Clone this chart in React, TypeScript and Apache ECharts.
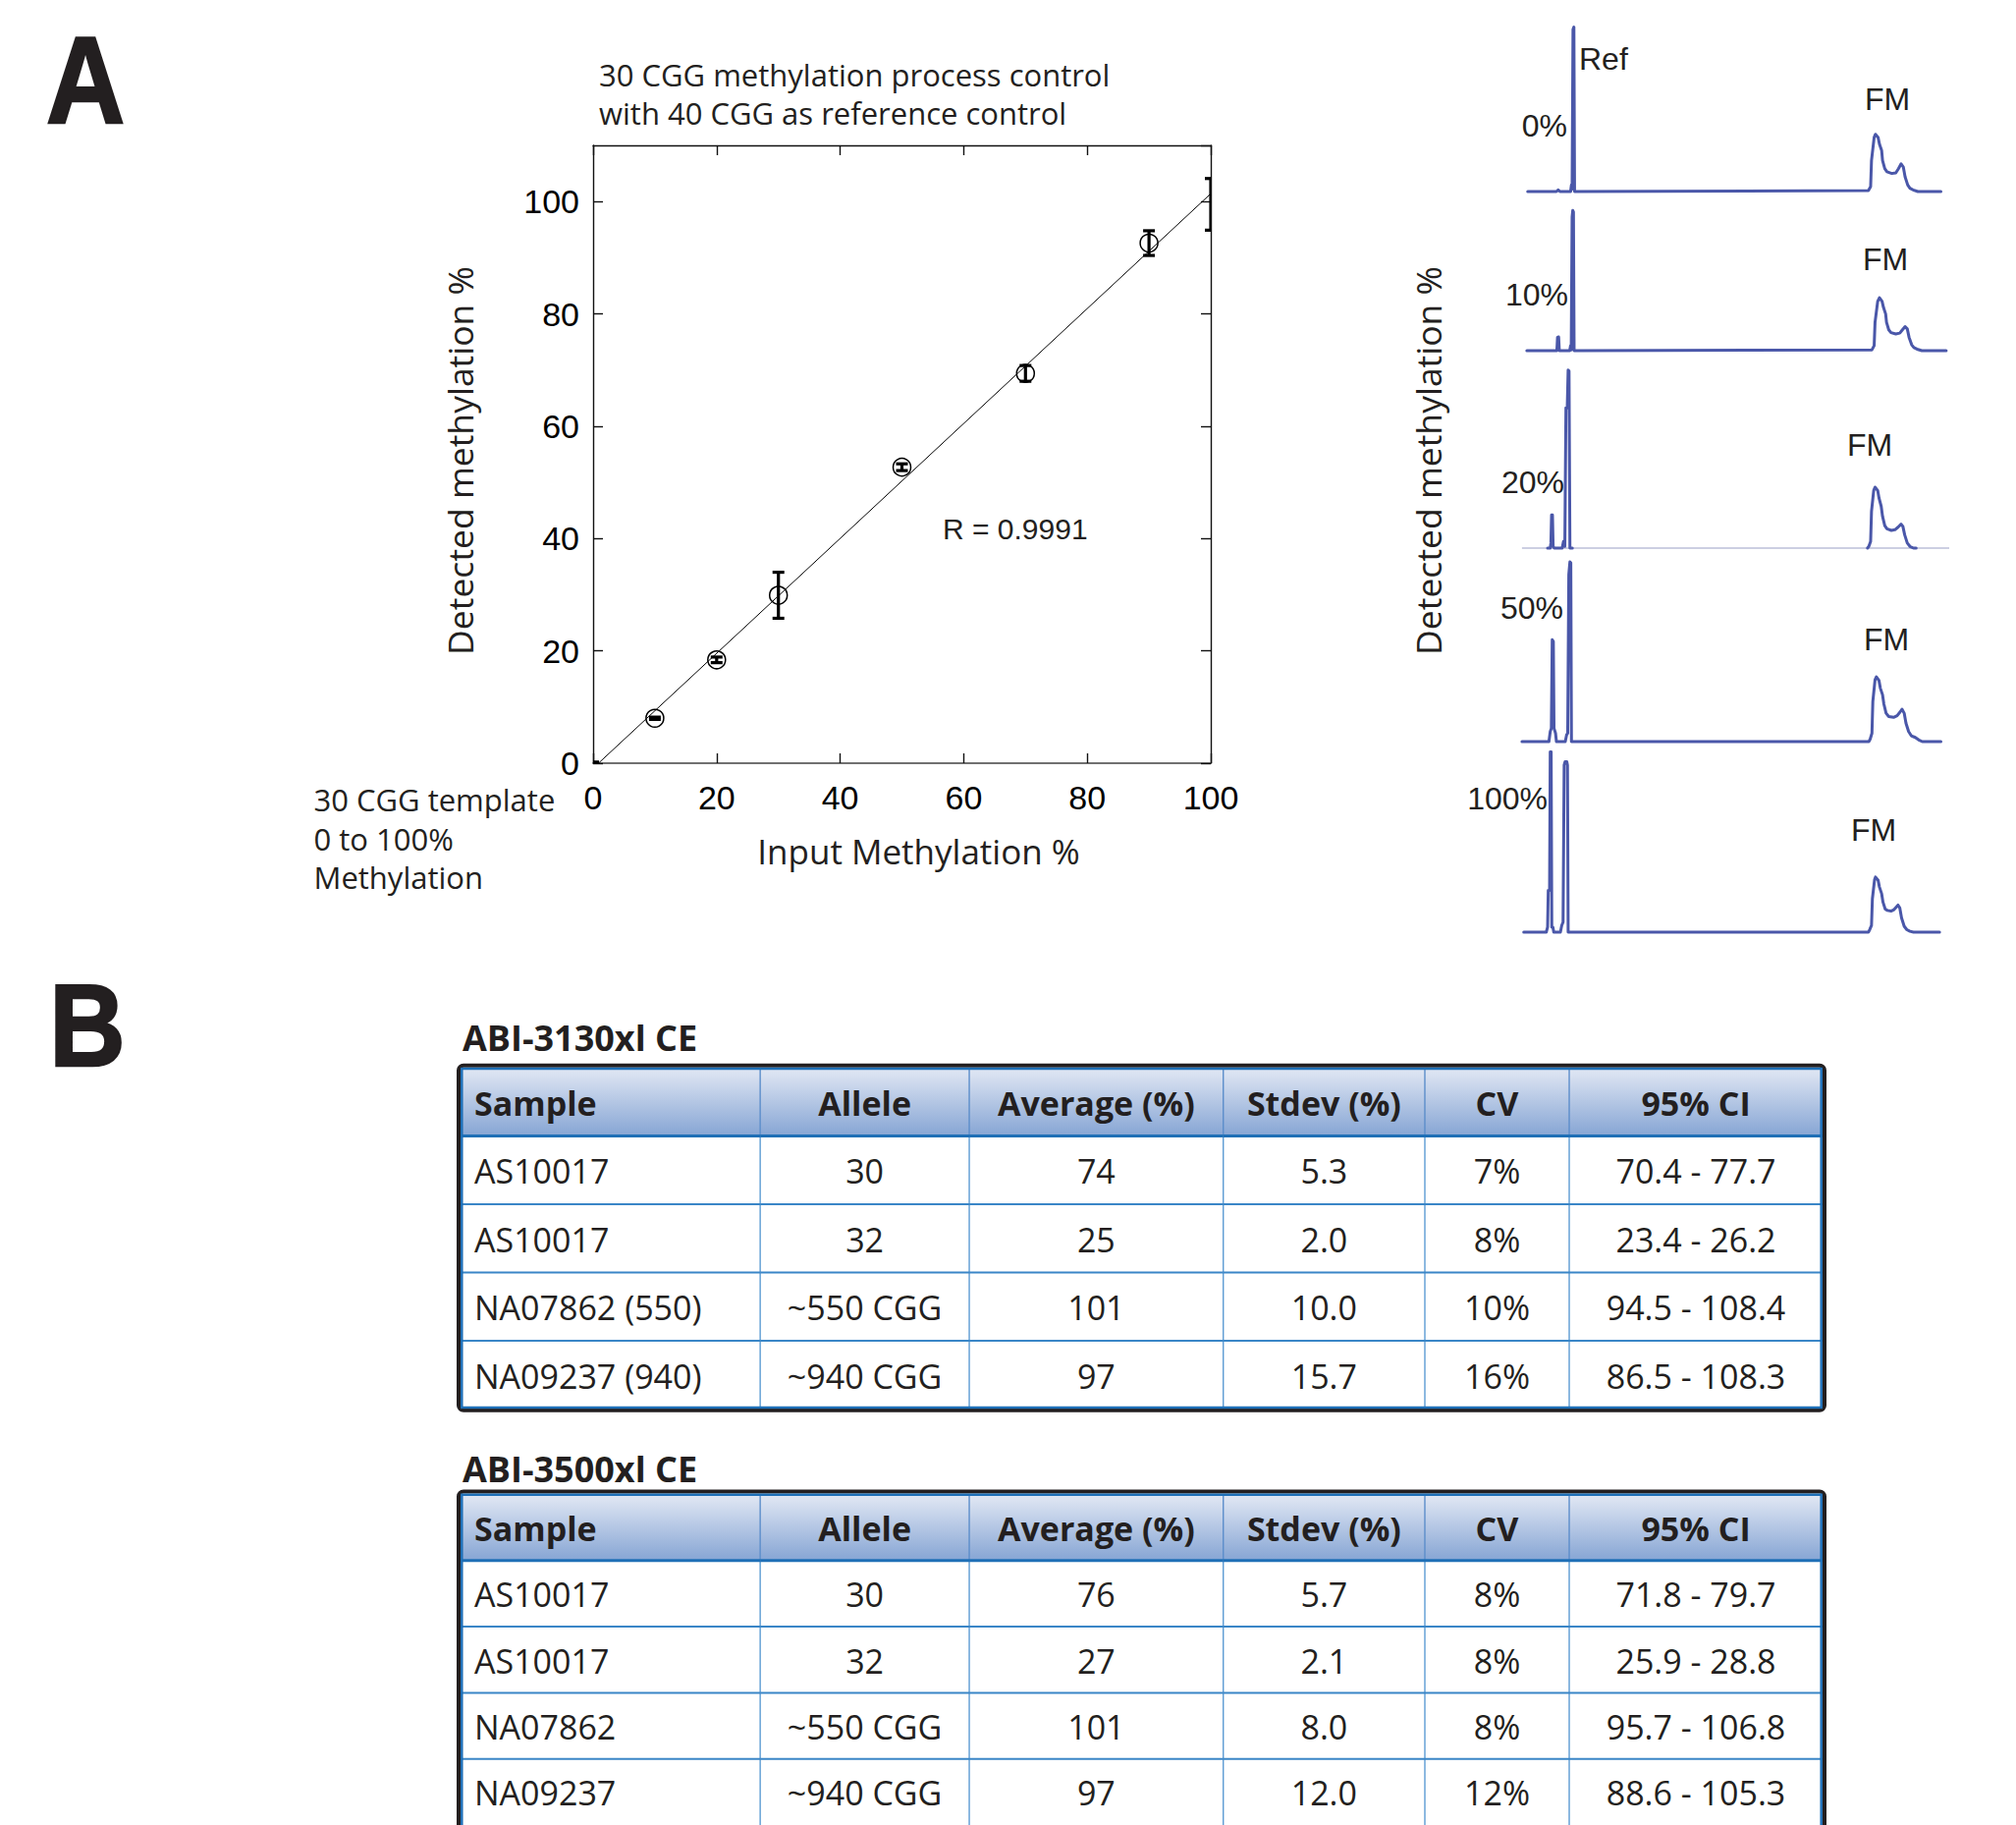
import React, { useEffect, useRef } from 'react';
import * as echarts from 'echarts';

// ---------------- DATA ----------------
// Panel A (left): methylation process control
const inputMethylation = [0, 10, 20, 30, 50, 70, 90, 100];
const detectedMethylation = [0, 8.0, 18.4, 29.9, 52.7, 69.4, 92.6, 99.5];
const detectedError = [0.2, 0.2, 0.5, 4.1, 0.6, 1.4, 2.2, 4.6];
const fitLine = [[0, -0.9], [100, 101.4]];
const rLabel = 'R = 0.9991';

// Panel A (right): electropherogram traces (relative mobility, relative signal)
const trace0 = [
  [3.5, 0], [10.0, 0], [10.4, 1], [10.8, 0],
  [13.2, 0], [13.4, 4], [13.55, 1.5], [13.75, 97], [13.95, 98.5], [14.1, 0],
  [80.6, 0.6], [81.1, 2.9], [81.3, 18.6], [81.9, 32.4], [82.2, 34.3], [82.8, 32.4], [83.1, 28.4], [83.6, 24.5],
  [83.8, 18.6], [84.3, 13.7], [84.8, 11.8], [85.9, 10.8], [86.8, 11.2], [87.4, 13.7], [88.0, 16.6], [88.5, 14.7],
  [88.9, 8.8], [89.5, 3.9], [90.0, 2.0], [90.7, 1.0], [91.8, 0], [97.0, 0],
];
const trace10 = [
  [3.3, 0], [10.1, 0], [10.25, 8], [10.5, 8.2], [10.65, 0],
  [13.0, 0], [13.2, 3], [13.35, 0.5], [13.55, 80], [13.7, 84], [13.85, 83], [14.0, 0],
  [81.4, 0.5], [81.9, 3], [82.1, 17], [82.7, 29.5], [83.1, 31.7], [83.7, 29.5], [84.0, 26], [84.5, 22],
  [84.7, 17], [85.2, 12.5], [85.7, 10.8], [86.8, 10], [87.7, 10.5], [88.3, 12.5], [88.9, 14.4], [89.4, 13],
  [89.8, 8], [90.4, 3.5], [90.9, 1.8], [91.6, 0.9], [92.7, 0], [98.2, 0],
];
const trace20Peaks = [
  [8.0, 0], [8.6, 0], [8.75, 3], [8.9, 19.8], [9.1, 19.8], [9.25, 1], [9.5, 0],
  [11.3, 0], [11.6, 4], [11.9, 1], [12.15, 84], [12.45, 84], [12.65, 106.6], [12.85, 106], [13.05, 0], [13.6, 0],
];
const trace20FM = [
  [80.4, 0], [80.7, 1], [81.1, 4], [81.3, 22], [81.8, 34.5], [82.1, 36.5], [82.7, 34.5], [83.0, 30], [83.5, 25],
  [83.8, 19], [84.3, 13.5], [84.8, 11.5], [85.8, 10.6], [86.6, 11], [87.3, 12.5], [88.0, 14.3], [88.4, 13],
  [88.8, 8], [89.4, 3], [90.0, 1], [90.8, 0], [91.4, 0],
];
const trace20Baseline = [[2.2, 0], [98.9, 0]];
const trace50 = [
  [2.2, 0], [8.3, 0], [8.6, 6], [8.85, 8], [9.05, 61], [9.3, 60], [9.45, 8], [9.8, 5], [10.0, 0],
  [12.0, 0], [12.3, 4], [12.55, 5], [12.8, 100], [13.05, 107.6], [13.25, 107], [13.4, 0],
  [80.7, 0], [81.0, 1.5], [81.4, 5], [81.6, 24], [82.1, 37], [82.4, 38.8], [83.0, 36.5], [83.3, 32], [83.8, 28],
  [84.1, 22.5], [84.6, 17], [85.2, 15], [86.3, 14.5], [87.1, 15.5], [87.7, 17.5], [88.2, 19.4], [88.7, 17],
  [89.1, 11], [89.7, 6], [90.3, 3.5], [91.2, 2.5], [92.0, 1], [92.8, 0], [97.0, 0],
];
const trace100 = [
  [2.6, 0], [7.7, 0], [8.0, 3], [8.15, 25], [8.45, 25], [8.6, 108], [8.8, 108], [8.95, 3], [9.2, 3], [9.4, 0],
  [10.9, 0], [11.2, 4], [11.5, 6], [11.75, 100], [11.95, 102], [12.35, 102], [12.5, 100], [12.65, 0], [13.0, 0],
  [80.6, 0], [80.9, 1.5], [81.3, 4], [81.5, 20], [82.0, 31.5], [82.2, 33], [82.8, 31], [83.1, 27], [83.6, 23],
  [83.9, 18], [84.4, 13.8], [84.9, 13], [85.7, 12.6], [86.4, 13.5], [86.9, 15], [87.3, 16.2], [87.7, 14.5],
  [88.1, 8.5], [88.7, 3.5], [89.3, 1.5], [90.0, 0.5], [90.8, 0], [96.7, 0],
];
const traceLabels = ['0%', '10%', '20%', '50%', '100%'];

// Panel B: tables
const tableHeaders = ['Sample', 'Allele', 'Average (%)', 'Stdev (%)', 'CV', '95% CI'];
const abi3130Rows = [
  ['AS10017', '30', '74', '5.3', '7%', '70.4 - 77.7'],
  ['AS10017', '32', '25', '2.0', '8%', '23.4 - 26.2'],
  ['NA07862 (550)', '~550 CGG', '101', '10.0', '10%', '94.5 - 108.4'],
  ['NA09237 (940)', '~940 CGG', '97', '15.7', '16%', '86.5 - 108.3'],
];
const abi3500Rows = [
  ['AS10017', '30', '76', '5.7', '8%', '71.8 - 79.7'],
  ['AS10017', '32', '27', '2.1', '8%', '25.9 - 28.8'],
  ['NA07862', '~550 CGG', '101', '8.0', '8%', '95.7 - 106.8'],
  ['NA09237', '~940 CGG', '97', '12.0', '12%', '88.6 - 105.3'],
];

// ---------------- LAYOUT ----------------
const W = 2053;
const H = 1858;
const TXT = '#231f20';
const SANS = 'Open Sans';
const ARIAL = 'Liberation Sans';
const TRACE_COLOR = '#4a57a9';
const SC = { left: 604, top: 148, width: 629, height: 629 };
const TRACE_BASE = [195, 357, 558, 755, 949];
const TRACE_LEFT = 1540;
const TRACE_W = 450;
const TRACE_H = 187;
const COL_EDGES = [0, 22.0, 37.35, 56.0, 70.8, 81.4, 100];
const TABLE_GRIDS = [
  { left: 469, top: 1087, width: 1387, height: 347.5 },
  { left: 469, top: 1521.5, width: 1387, height: 348.5 },
];

function buildCells(rows: string[][]) {
  const cells: { col: number; row: number; text: string }[] = [];
  tableHeaders.forEach((h, c) => cells.push({ col: c, row: 0, text: h }));
  rows.forEach((r, ri) => r.forEach((v, c) => cells.push({ col: c, row: ri + 1, text: v })));
  return cells;
}

function txt(text: string, x: number, y: number, o: any) {
  const align = o.align || 'left';
  return {
    type: 'text',
    x,
    y,
    rotation: o.rot || 0,
    scaleX: o.scaleX || 1,
    z: 50,
    silent: true,
    style: {
      text,
      fill: TXT,
      fontSize: o.size,
      fontFamily: o.family,
      fontWeight: o.weight || 'normal',
      align,
      textAlign: align,
      verticalAlign: 'middle',
      textVerticalAlign: 'middle',
      stroke: o.stroke,
      lineWidth: o.lw,
    },
  };
}

function buildOption() {
  const grids: any[] = [];
  const xAxes: any[] = [];
  const yAxes: any[] = [];
  const series: any[] = [];

  // --- scatter grid ---
  grids.push({ left: SC.left, top: SC.top, width: SC.width, height: SC.height, show: false });
  const axLine = { show: true, onZero: false, lineStyle: { color: '#111', width: 1.4 } };
  const axTick = { show: true, inside: true, length: 10, lineStyle: { color: '#111', width: 1.4 } };
  const axLabel = { fontSize: 34, fontFamily: ARIAL, color: '#000' };
  xAxes.push({
    gridIndex: 0, type: 'value', min: 0, max: 100, interval: 20, position: 'bottom',
    axisLine: { show: true, onZero: false, lineStyle: { color: '#707070', width: 2 } },
    axisTick: axTick, splitLine: { show: false },
    axisLabel: { ...axLabel, margin: 18, showMinLabel: true, showMaxLabel: true },
  });
  xAxes.push({
    gridIndex: 0, type: 'value', min: 0, max: 100, interval: 20, position: 'top',
    axisLine: axLine, axisTick: axTick, splitLine: { show: false }, axisLabel: { show: false },
  });
  yAxes.push({
    gridIndex: 0, type: 'value', min: 0, max: 110, interval: 20, position: 'left',
    axisLine: axLine, axisTick: axTick, splitLine: { show: false },
    axisLabel: { ...axLabel, margin: 14, showMaxLabel: false, showMinLabel: true },
  });
  yAxes.push({
    gridIndex: 0, type: 'value', min: 0, max: 110, interval: 20, position: 'right',
    axisLine: axLine, axisTick: axTick, splitLine: { show: false }, axisLabel: { show: false },
  });
  series.push({
    type: 'line', xAxisIndex: 0, yAxisIndex: 0, data: fitLine, symbol: 'none', silent: true,
    lineStyle: { color: '#000', width: 1 }, clip: true, z: 3,
  });
  series.push({
    type: 'custom', xAxisIndex: 0, yAxisIndex: 0, clip: true, silent: true, z: 4,
    data: inputMethylation.map((x, i) => [x, detectedMethylation[i], detectedError[i]]),
    encode: { x: 0, y: 1 },
    renderItem: (params: any, api: any) => {
      const x = api.value(0);
      const y = api.value(1);
      const e = api.value(2);
      const c = api.coord([x, y]);
      const t = api.coord([x, y + e]);
      const b = api.coord([x, y - e]);
      const cs = params.coordSys;
      const cap = 6;
      const st = { stroke: '#000', lineWidth: 3.2 };
      const children: any[] = [
        { type: 'line', shape: { x1: c[0], y1: t[1], x2: c[0], y2: b[1] }, style: st },
        { type: 'line', shape: { x1: c[0] - cap, y1: t[1], x2: c[0] + cap, y2: t[1] }, style: st },
        { type: 'line', shape: { x1: c[0] - cap, y1: b[1], x2: c[0] + cap, y2: b[1] }, style: st },
      ];
      const r = 9;
      const inside =
        c[0] - r >= cs.x - 0.5 && c[0] + r <= cs.x + cs.width + 0.5 &&
        c[1] - r >= cs.y - 0.5 && c[1] + r <= cs.y + cs.height + 0.5;
      if (inside) {
        children.push({
          type: 'circle', shape: { cx: c[0], cy: c[1], r },
          style: { fill: 'none', stroke: '#000', lineWidth: 1.5 },
        });
      }
      return { type: 'group', children };
    },
  });

  // --- trace grids ---
  const traceSets: any[][] = [[trace0], [trace10], [trace20Peaks, trace20FM], [trace50], [trace100]];
  traceSets.forEach((set, i) => {
    const gi = grids.length;
    grids.push({ left: TRACE_LEFT, top: TRACE_BASE[i] - TRACE_H, width: TRACE_W, height: TRACE_H, show: false });
    xAxes.push({ gridIndex: gi, type: 'value', min: 0, max: 100, show: false });
    yAxes.push({ gridIndex: gi, type: 'value', min: 0, max: 110, show: false });
    const ai = xAxes.length - 1;
    if (i === 2) {
      series.push({
        type: 'line', xAxisIndex: ai, yAxisIndex: ai, data: trace20Baseline, symbol: 'none', silent: true,
        lineStyle: { color: '#9aa0c6', width: 1.2 }, clip: false, z: 2,
      });
    }
    set.forEach((d) => {
      series.push({
        type: 'line', xAxisIndex: ai, yAxisIndex: ai, data: d, symbol: 'none', silent: true,
        lineStyle: { color: TRACE_COLOR, width: 3, join: 'round', cap: 'round' }, clip: false, z: 3,
      });
    });
  });

  // --- tables ---
  const headerFill = new echarts.graphic.LinearGradient(0, 0, 0, 1, [
    { offset: 0, color: '#e2e8f4' },
    { offset: 1, color: '#86a5d4' },
  ]);
  [abi3130Rows, abi3500Rows].forEach((rows, ti) => {
    const gi = grids.length;
    grids.push({ ...TABLE_GRIDS[ti], show: false });
    xAxes.push({ gridIndex: gi, type: 'value', min: 0, max: 100, show: false });
    yAxes.push({ gridIndex: gi, type: 'value', min: 0, max: rows.length + 1, inverse: true, show: false });
    const ai = xAxes.length - 1;
    const cells = buildCells(rows);
    const nRows = rows.length;
    series.push({
      type: 'custom', xAxisIndex: ai, yAxisIndex: ai, silent: true, clip: false, z: 2,
      data: cells.map((c) => [c.col, c.row]),
      renderItem: (params: any, api: any) => {
        const cell = cells[params.dataIndex];
        const col = cell.col;
        const row = cell.row;
        const p0 = api.coord([COL_EDGES[col], row]);
        const p1 = api.coord([COL_EDGES[col + 1], row + 1]);
        const x0 = p0[0];
        const x1 = p1[0];
        const y0 = Math.min(p0[1], p1[1]);
        const y1 = Math.max(p0[1], p1[1]);
        const header = row === 0;
        const children: any[] = [
          {
            type: 'rect', z2: 0, shape: { x: x0, y: y0, width: x1 - x0, height: y1 - y0 },
            style: { fill: header ? headerFill : '#ffffff' },
          },
        ];
        if (col < tableHeaders.length - 1) {
          children.push({
            type: 'line', z2: 10, shape: { x1: x1, y1: y0, x2: x1, y2: y1 },
            style: { stroke: header ? '#5b8dca' : '#5c9bd3', lineWidth: 1.4 },
          });
        }
        if (row < nRows) {
          children.push({
            type: 'line', z2: header ? 12 : 11, shape: { x1: x0, y1: y1, x2: x1, y2: y1 },
            style: { stroke: header ? '#1f6fb6' : '#3a86c7', lineWidth: header ? 3 : 2 },
          });
        }
        const align = col === 0 ? 'left' : 'center';
        children.push({
          type: 'text', z2: 20,
          style: {
            text: cell.text,
            x: col === 0 ? x0 + 14 : (x0 + x1) / 2,
            y: (y0 + y1) / 2 + 1,
            fill: TXT,
            fontSize: 34,
            fontFamily: SANS,
            fontWeight: header ? 'bold' : 'normal',
            align, textAlign: align,
            verticalAlign: 'middle', textVerticalAlign: 'middle',
          },
        });
        return { type: 'group', children };
      },
    });
  });

  // --- graphic: frames and free texts ---
  const elements: any[] = [];
  // table frames
  elements.push({ type: 'rect', z: 60, silent: true, shape: { x: 467, y: 1084.7, width: 1391, height: 351, r: 5 }, style: { fill: 'none', stroke: '#231f20', lineWidth: 4 } });
  elements.push({ type: 'rect', z: 61, silent: true, shape: { x: 470.3, y: 1088, width: 1384.4, height: 345 }, style: { fill: 'none', stroke: '#1f70b8', lineWidth: 2.5 } });
  elements.push({ type: 'rect', z: 60, silent: true, shape: { x: 467, y: 1518.5, width: 1391, height: 420, r: 5 }, style: { fill: 'none', stroke: '#231f20', lineWidth: 4 } });
  elements.push({ type: 'rect', z: 61, silent: true, shape: { x: 470.3, y: 1521.8, width: 1384.4, height: 420 }, style: { fill: 'none', stroke: '#1f70b8', lineWidth: 2.5 } });

  // panel letters
  elements.push(txt('A', 87, 81, { size: 126, family: ARIAL, weight: 'bold', align: 'center', scaleX: 0.88, stroke: TXT, lw: 2.5 }));
  elements.push(txt('B', 89, 1044, { size: 119, family: ARIAL, weight: 'bold', align: 'center', scaleX: 0.9, stroke: TXT, lw: 2.5 }));

  // scatter texts
  elements.push(txt('30 CGG methylation process control', 610, 76, { size: 31, family: SANS }));
  elements.push(txt('with 40 CGG as reference control', 610, 115, { size: 31, family: SANS }));
  elements.push(txt('Detected methylation %', 468, 469, { size: 35.5, family: SANS, align: 'center', rot: Math.PI / 2 }));
  elements.push(txt('Input Methylation %', 935.5, 866.7, { size: 35, family: SANS, align: 'center' }));
  elements.push(txt('30 CGG template', 319.5, 814, { size: 31, family: SANS }));
  elements.push(txt('0 to 100%', 319.5, 853.6, { size: 31, family: SANS }));
  elements.push(txt('Methylation', 319.5, 893, { size: 31, family: SANS }));
  elements.push(txt(rLabel, 960, 538, { size: 30, family: ARIAL }));

  // trace texts
  elements.push(txt('Detected methylation %', 1454, 469, { size: 35.5, family: SANS, align: 'center', rot: Math.PI / 2 }));
  elements.push(txt('Ref', 1608, 60, { size: 32, family: ARIAL }));
  const pctPos = [[1596, 128], [1597, 300], [1593, 491], [1592, 619], [1576, 813]];
  const fmPos = [[1922, 101], [1920, 264], [1904, 453], [1921, 651], [1908, 845]];
  traceLabels.forEach((l, i) => {
    elements.push(txt(l, pctPos[i][0], pctPos[i][1], { size: 32, family: ARIAL, align: 'right' }));
    elements.push(txt('FM', fmPos[i][0], fmPos[i][1], { size: 32, family: ARIAL, align: 'center' }));
  });

  // table titles
  elements.push(txt('ABI-3130xl CE', 471, 1056, { size: 36, family: SANS, weight: 'bold' }));
  elements.push(txt('ABI-3500xl CE', 471, 1495, { size: 36, family: SANS, weight: 'bold' }));

  return {
    animation: false,
    backgroundColor: '#ffffff',
    grid: grids,
    xAxis: xAxes,
    yAxis: yAxes,
    series,
    graphic: { elements },
  };
}

export default function App() {
  const ref = useRef<HTMLDivElement>(null);
  useEffect(() => {
    if (!ref.current) return;
    const chart = echarts.init(ref.current, null, { renderer: 'svg', width: W, height: H });
    chart.setOption(buildOption() as any);
    return () => {
      chart.dispose();
    };
  }, []);
  return (
    <div
      ref={ref}
      style={{ position: 'absolute', left: 0, top: 0, width: W, height: H, background: '#fff', overflow: 'hidden' }}
    />
  );
}
